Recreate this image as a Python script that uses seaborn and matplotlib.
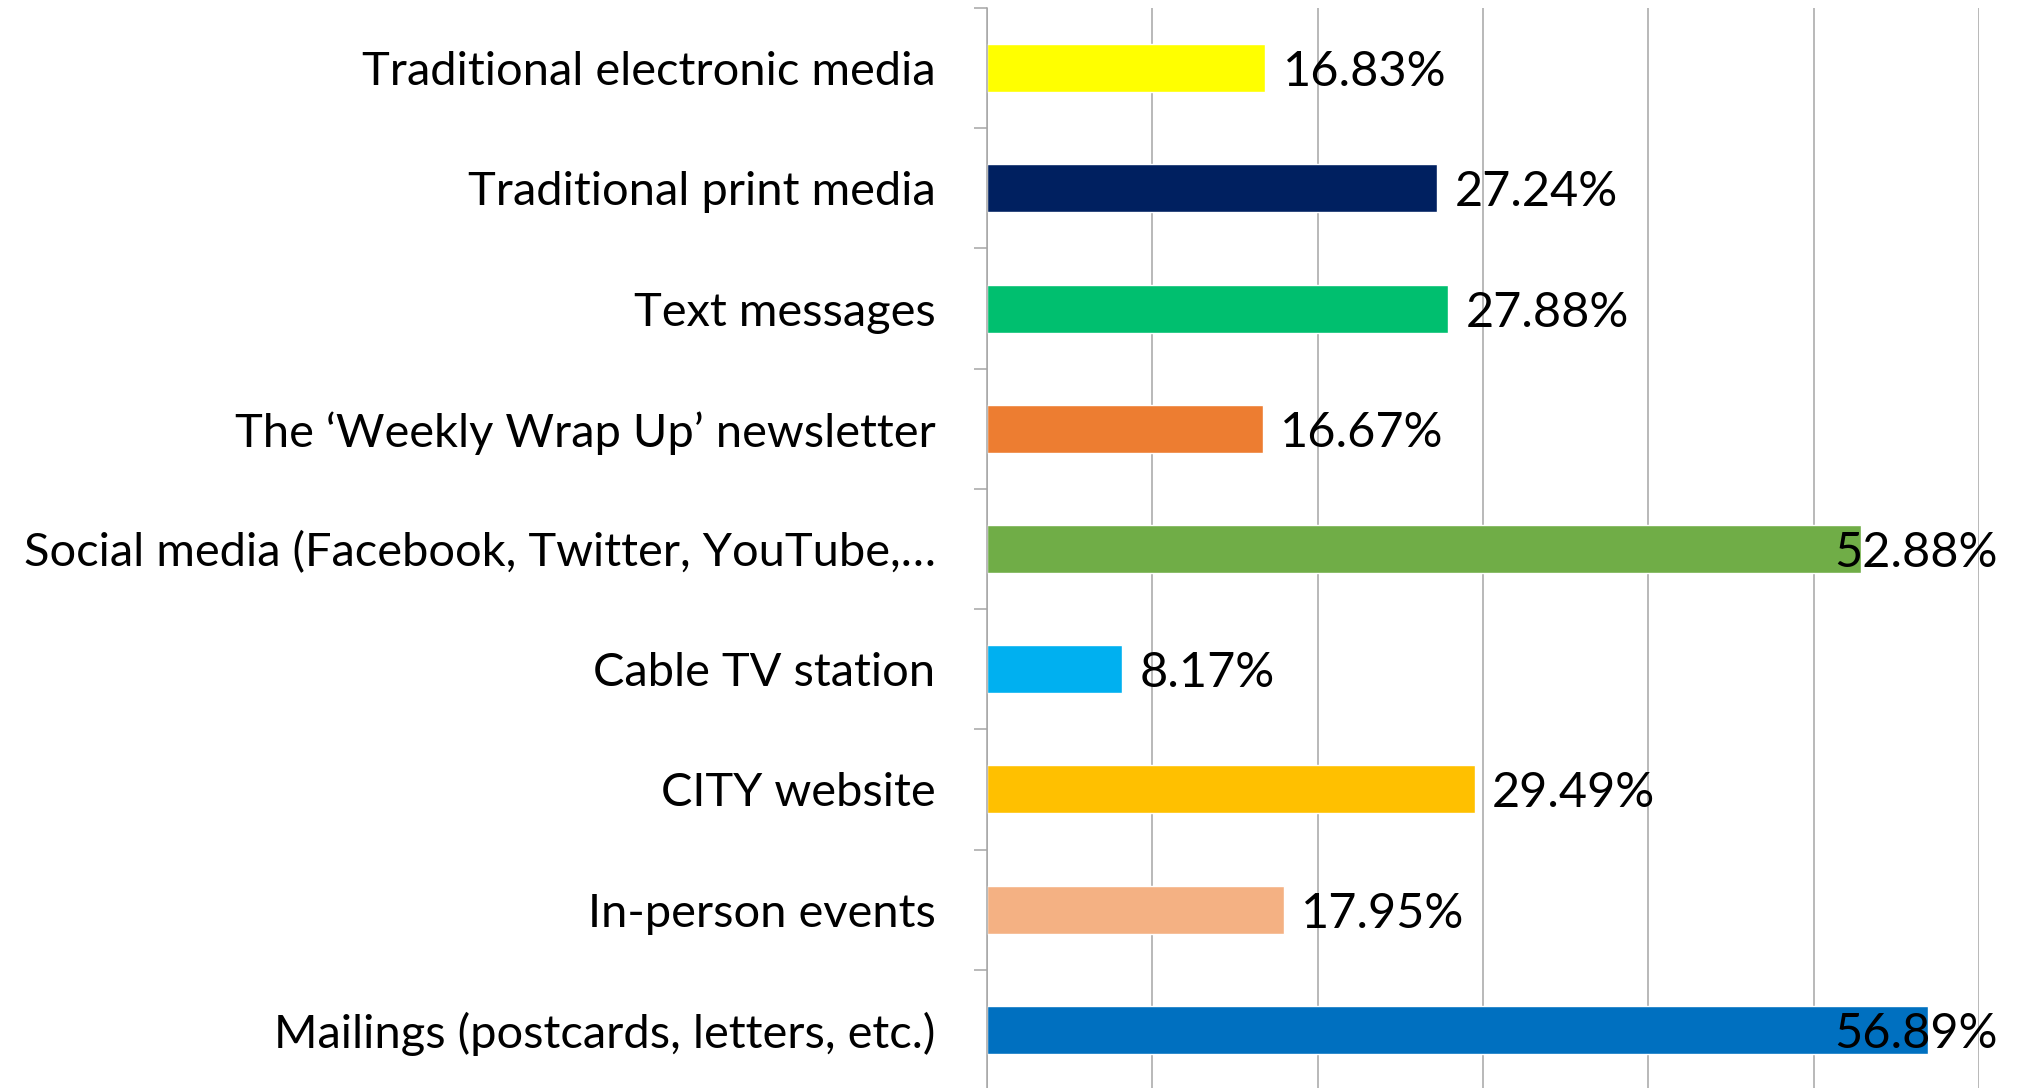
import matplotlib
matplotlib.use("Agg")
import matplotlib.pyplot as plt
import seaborn as sns
import pandas as pd
from matplotlib.ticker import FixedLocator

categories = [
    "Traditional electronic media",
    "Traditional print media",
    "Text messages",
    "The \u2018Weekly Wrap Up\u2019 newsletter",
    "Social media (Facebook, Twitter, YouTube,\u2026",
    "Cable TV station",
    "CITY website",
    "In-person events",
    "Mailings (postcards, letters, etc.)",
]
values = [16.83, 27.24, 27.88, 16.67, 52.88, 8.17, 29.49, 17.95, 56.89]
colors = ["#FFFF00", "#002060", "#00BF6F", "#ED7D31", "#70AD47",
          "#00B0F0", "#FFC000", "#F4B183", "#0070C0"]

sns.set_theme(style="white")
plt.rcParams["font.family"] = ["Lato", "DejaVu Sans"]

df = pd.DataFrame({"channel": categories, "share": values})

fig = plt.figure(figsize=(20.23, 10.88), dpi=100)
ax = fig.add_axes([987 / 2023, -2 / 1088, 992 / 2023, 1082 / 1088])

sns.barplot(data=df, x="share", y="channel", hue="channel", palette=colors,
            orient="h", width=0.4, legend=False, ax=ax, saturation=1)

grid_color = "#A6A6A6"
category_size = 33.8
value_size = 35
ax.set_xlim(0, 60)
ax.set_ylim(8.5, -0.5)
ax.xaxis.set_major_locator(FixedLocator([0, 10, 20, 30, 40, 50, 60]))
ax.grid(axis="x", color=grid_color, linewidth=1.1)
ax.grid(axis="y", visible=False)
ax.set_axisbelow(True)
ax.tick_params(axis="x", length=0, labelbottom=False)
ax.set_xlabel("")
ax.set_ylabel("")

# category tick marks sit between bars, labels stay at bar centres
ax.yaxis.set_minor_locator(FixedLocator([i - 0.5 for i in range(len(categories) + 1)]))
ax.tick_params(axis="y", which="minor", left=True, length=9.5, width=1.1, color=grid_color)
ax.tick_params(axis="y", which="major", left=True, length=0, pad=37,
               labelsize=category_size, labelcolor="black")

for side in ["top", "right", "bottom"]:
    ax.spines[side].set_visible(False)
ax.spines["left"].set_color(grid_color)
ax.spines["left"].set_linewidth(1.1)

# value labels just past each bar; long bars keep their label inside the chart area
for i, v in enumerate(values):
    label = f"{v:.2f}%"
    if v > 45:
        ax.text(61.15, i, label, ha="right", va="center_baseline", fontsize=value_size,
                color="black", clip_on=False)
    else:
        ax.text(v + 1.05, i, label, ha="left", va="center_baseline", fontsize=value_size,
                color="black")

fig.savefig("out.png", dpi=100)
